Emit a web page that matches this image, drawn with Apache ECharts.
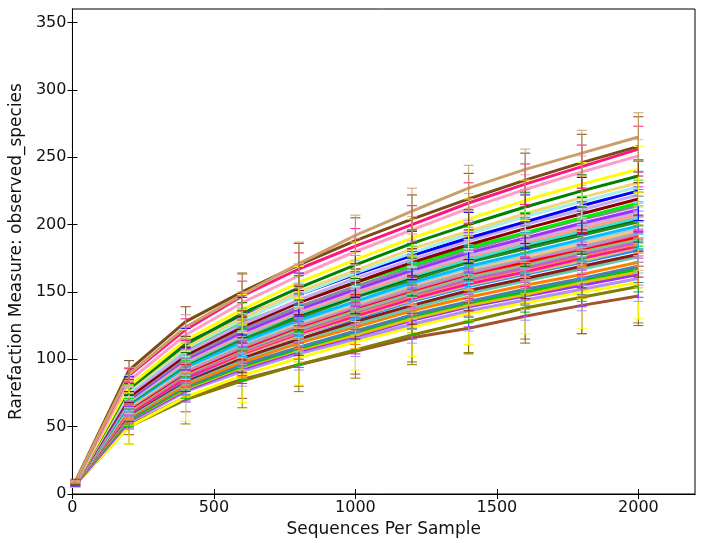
<!DOCTYPE html>
<html>
<head>
<meta charset="utf-8">
<script src="https://cdn.jsdelivr.net/npm/echarts@6/dist/echarts.min.js"></script>
<style>html,body{margin:0;padding:0;background:#fff}#c{width:704px;height:543px}</style>
</head>
<body>
<div id="c"></div>
<script>
// x positions (sequences per sample)
const seqs = [10, 200, 400, 600, 800, 1000, 1200, 1400, 1600, 1800, 2000];
const xTicks = [0, 500, 1000, 1500, 2000];
const yTicks = [0, 50, 100, 150, 200, 250, 300, 350];

// observed species per sample (mean)
const sTan        = [9, 89, 124, 148, 171, 192, 210, 227, 241, 253, 265];
const sBrown      = [9, 92, 128, 150, 170, 188, 204, 219, 233, 246, 258];
const sDeepPink   = [9, 88, 122, 147, 167, 184, 200, 216, 230, 243, 256];
const sLightPink  = [8, 84, 118, 142, 162, 180, 196, 212, 226, 239, 251];
const sYellow     = [8, 80, 114, 137, 157, 174, 190, 204, 218, 230, 241];
const sGreen      = [8, 78, 111, 134, 153, 170, 186, 200, 213, 225, 236];
const sKhaki      = [8, 77, 109, 131, 150, 166, 182, 195, 208, 220, 231];
const sLightCyan  = [8, 76, 108, 129, 148, 164, 179, 193, 206, 217, 228];
const sBlue       = [8, 80, 112, 132, 148, 163, 177, 190, 202, 214, 225];
const sLavender   = [8, 74, 105, 126, 144, 160, 174, 188, 200, 211, 222];
const sDarkRed    = [8, 72, 103, 124, 142, 157, 172, 185, 197, 208, 219];
const sLime       = [8, 76, 107, 127, 143, 157, 170, 183, 194, 205, 216];
const sSlate      = [8, 71, 101, 122, 139, 154, 168, 181, 193, 204, 214];
const sMedPurple  = [8, 70, 100, 120, 137, 152, 166, 179, 190, 201, 211];
const sPlum       = [8, 69, 99, 119, 136, 151, 164, 177, 188, 199, 209];
const sSalmon     = [8, 69, 98, 118, 135, 149, 163, 176, 187, 197, 207];
const sTurquoise  = [8, 68, 97, 117, 134, 148, 162, 174, 185, 195, 205];
const sDarkGreen  = [8, 74, 101, 118, 133, 147, 161, 174, 184, 194, 204];
const sForest     = [8, 67, 96, 115, 131, 146, 159, 172, 182, 192, 202];
const sDeepSky    = [8, 66, 94, 113, 129, 143, 157, 169, 179, 189, 199];
const sLightSky   = [8, 66, 94, 112, 128, 142, 156, 168, 178, 188, 198];
const sPeach      = [8, 65, 93, 112, 127, 141, 155, 167, 176, 186, 196];
const sGray       = [8, 64, 92, 110, 126, 140, 153, 165, 175, 184, 194];
const sOrchid     = [8, 64, 91, 109, 125, 139, 152, 164, 174, 183, 193];
const sRed        = [8, 63, 90, 108, 124, 138, 151, 163, 172, 182, 191];
const sSeaGreen   = [8, 62, 89, 107, 122, 136, 149, 161, 170, 180, 189];
const sViolet     = [8, 62, 88, 106, 121, 135, 148, 159, 168, 178, 187];
const sCoral      = [8, 61, 88, 105, 120, 134, 147, 158, 167, 177, 186];
const sDeepPink2  = [8, 60, 86, 104, 119, 132, 145, 156, 165, 175, 184];
const sKhaki2     = [8, 60, 86, 103, 118, 131, 144, 155, 164, 173, 183];
const sDodger     = [8, 60, 85, 103, 118, 130, 143, 154, 163, 172, 181];
const sMaroon     = [8, 59, 84, 101, 115, 128, 140, 151, 160, 169, 178];
const sAqua       = [8, 58, 83, 100, 114, 126, 138, 149, 158, 167, 176];
const sOrange     = [8, 57, 81, 98, 112, 124, 136, 146, 155, 163, 172];
const sSteel      = [8, 56, 80, 96, 109, 121, 133, 143, 152, 160, 169];
const sLime2      = [8, 55, 79, 95, 108, 120, 132, 142, 150, 159, 167];
const sGold       = [8, 55, 78, 94, 107, 118, 130, 140, 148, 157, 165];
const sPurple     = [7, 54, 77, 93, 106, 117, 129, 139, 147, 155, 163];
const sLightPurp  = [7, 53, 76, 91, 104, 115, 126, 136, 144, 152, 160];
const sYellow2    = [7, 50, 72, 88, 101, 113, 124, 134, 142, 150, 157];
const sOlive      = [7, 50, 70, 84, 96, 107, 118, 128, 138, 146, 154];
const sSienna     = [7, 51, 72, 85, 96, 106, 116, 123, 132, 140, 147];

// error bar half-lengths (std dev)
const errA = [1, 4, 6, 8, 9, 10, 10, 11, 11, 12, 12];
const errB = [1, 5, 8, 11, 12, 13, 14, 15, 15, 16, 17];
const errC = [2, 7, 11, 14, 16, 17, 18, 19, 20, 21, 22];
const errD = [2, 13, 18, 20, 20, 21, 22, 23, 23, 27, 27];
const errE = [1, 5, 9, 15, 16, 15, 17, 17, 15, 17, 18];

const curves = [
  [sSienna, errC], [sOlive, errD], [sYellow2, errD], [sLightPurp, errB], [sPurple, errB],
  [sGold, errA], [sLime2, errB], [sSteel, errA], [sOrange, errB], [sAqua, errA],
  [sMaroon, errB], [sDodger, errA], [sKhaki2, errB], [sDeepPink2, errA], [sCoral, errB],
  [sViolet, errA], [sSeaGreen, errB], [sRed, errA], [sOrchid, errB], [sGray, errA],
  [sPeach, errB], [sLightSky, errA], [sDeepSky, errB], [sForest, errA], [sDarkGreen, errB],
  [sTurquoise, errA], [sSalmon, errB], [sPlum, errA], [sMedPurple, errB], [sSlate, errA],
  [sLime, errB], [sDarkRed, errA], [sLavender, errB], [sBlue, errC], [sLightCyan, errA],
  [sKhaki, errB], [sGreen, errA], [sYellow, errB], [sLightPink, errA], [sDeepPink, errB],
  [sBrown, errC], [sTan, errE]
];
const colors = [
  '#A0522D', '#808000', '#FFFF00', '#B090F0', '#9B30FF',
  '#E8C000', '#00C800', '#4682B4', '#FF8000', '#66CDAA',
  '#8B1A1A', '#1E90FF', '#D8C070', '#FF1493', '#FF7F50',
  '#C060C8', '#8FBC8F', '#FF0000', '#DA70D6', '#A9A9A9',
  '#FFC080', '#87CEFA', '#00BFFF', '#228B22', '#006400',
  '#40E0D0', '#FFA07A', '#D8A8E0', '#9B30FF', '#8888A8',
  '#00EE00', '#8B0000', '#C8A8F0', '#0000FF', '#9EF0F0',
  '#F0D878', '#008000', '#FFFF00', '#FF9EC4', '#FF1480',
  '#7A4B12', '#C9A06A'
];

const FONT = 'DejaVu Sans';
const series = [];
curves.forEach(function (c, i) {
  const vals = c[0], errs = c[1], col = colors[i];
  series.push({
    type: 'line', xAxisIndex: 0, yAxisIndex: 0,
    data: seqs.map(function (x, k) { return [x, vals[k]]; }),
    symbol: 'none', silent: true,
    lineStyle: { color: col, width: 3 }, z: 2 + i * 0.01
  });
  series.push({
    type: 'custom', xAxisIndex: 0, yAxisIndex: 0, silent: true,
    data: seqs.map(function (x, k) { return [x, vals[k], errs[k]]; }),
    z: 3 + i * 0.01,
    renderItem: function (params, api) {
      const x = api.value(0), y = api.value(1), e = api.value(2);
      const t = api.coord([x, y + e]), b = api.coord([x, y - e]);
      const st = { stroke: col, lineWidth: 1 };
      const hw = 5;
      return { type: 'group', children: [
        { type: 'line', shape: { x1: t[0], y1: t[1], x2: b[0], y2: b[1] }, style: st },
        { type: 'line', shape: { x1: t[0] - hw, y1: t[1], x2: t[0] + hw, y2: t[1] }, style: st },
        { type: 'line', shape: { x1: b[0] - hw, y1: b[1], x2: b[0] + hw, y2: b[1] }, style: st }
      ]};
    }
  });
});

const axisLineStyle = { show: true, lineStyle: { color: '#000', width: 1 } };
function tickStyle(vals) {
  return { show: true, inside: true, length: 5, customValues: vals, lineStyle: { color: '#000', width: 1 } };
}
function plain(v) { return String(v); }

const chart = echarts.init(document.getElementById('c'), null, { renderer: 'canvas' });
chart.setOption({
  animation: false,
  backgroundColor: '#fff',
  grid: { left: 68, right: 9, top: 9, bottom: 49, show: true, borderColor: '#000', borderWidth: 1, backgroundColor: 'transparent' },
  xAxis: [
    { type: 'value', min: 0, max: 2200, interval: 500, position: 'bottom',
      axisLine: axisLineStyle, axisTick: tickStyle(xTicks), splitLine: { show: false },
      axisLabel: { fontFamily: FONT, fontSize: 16, color: '#111', margin: 6, customValues: xTicks, formatter: plain },
      name: 'Sequences Per Sample', nameLocation: 'middle', nameGap: 23,
      nameTextStyle: { fontFamily: FONT, fontSize: 17, color: '#111' } },
    { type: 'value', min: 0, max: 2200, interval: 500, position: 'top',
      axisLine: axisLineStyle, axisTick: tickStyle(xTicks), splitLine: { show: false },
      axisLabel: { show: false } }
  ],
  yAxis: [
    { type: 'value', min: 0, max: 360, interval: 50, position: 'left',
      axisLine: axisLineStyle, axisTick: tickStyle(yTicks), splitLine: { show: false },
      axisLabel: { fontFamily: FONT, fontSize: 16, color: '#111', margin: 6, customValues: yTicks, formatter: plain },
      name: 'Rarefaction Measure: observed_species', nameLocation: 'middle', nameGap: 44,
      nameTextStyle: { fontFamily: FONT, fontSize: 17, color: '#111' } },
    { type: 'value', min: 0, max: 360, interval: 50, position: 'right',
      axisLine: axisLineStyle, axisTick: tickStyle(yTicks), splitLine: { show: false },
      axisLabel: { show: false } }
  ],
  series: series
});
</script>
</body>
</html>
